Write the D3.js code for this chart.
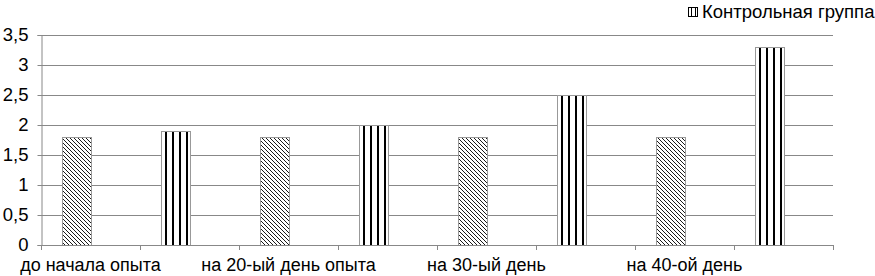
<!DOCTYPE html>
<html>
<head>
<meta charset="utf-8">
<script src="https://cdn.jsdelivr.net/npm/d3@7"></script>
<style>
  body { margin: 0; background: #fff; }
  svg { display: block; font-family: 'Liberation Sans', Arial, sans-serif; }
</style>
</head>
<body>
<svg id="chart" width="875" height="276"></svg>
<script>
// 8 slots on the axis, label shown on every second one
var categories = ['до начала опыта', '', 'на 20-ый день опыта', '', 'на 30-ый день', '', 'на 40-ой день', '']
var values = [1.8, 1.9, 1.8, 2.0, 1.8, 2.5, 1.8, 3.3]
var fills = ['hatch', 'stripe', 'hatch', 'stripe', 'hatch', 'stripe', 'hatch', 'stripe']
var yTicks = [0, 0.5, 1, 1.5, 2, 2.5, 3, 3.5]
var legendLabel = 'Контрольная группа'

var margin = { top: 35, right: 42, bottom: 31, left: 41 }
var width = 875, height = 276
var fontSize = 18.5

var svg = d3.select('#chart')

var x = d3.scaleBand()
  .domain(d3.range(categories.length))
  .range([margin.left, width - margin.right])

// two slots per category, bar sits in the first one
var slot = d3.scaleBand()
  .domain([0, 1])
  .range([0, x.bandwidth()])
  .paddingOuter(0.707)

var y = d3.scaleLinear()
  .domain([0, 3.5])
  .range([height - margin.bottom, margin.top])

var barX = (i) => Math.round(x(i) + slot(0)) + 0.5

var defs = svg.append('defs')
var hatch = defs.append('pattern')
  .attr('id', 'hatch')
  .attr('patternUnits', 'userSpaceOnUse')
  .attr('width', 4).attr('height', 4)
hatch.append('rect').attr('width', 4).attr('height', 4).attr('fill', '#fff')
hatch.append('path')
  .attr('d', 'M-1,-1 L5,5 M-1,3 L1,5 M3,-1 L5,1')
  .attr('stroke', '#000').attr('stroke-width', 0.9)

// one stripe pattern per bar, so the lines start at the same offset in each
values.forEach(function (v, i) {
  if (fills[i] !== 'stripe') return
  var p = defs.append('pattern')
    .attr('id', 'stripe' + i)
    .attr('patternUnits', 'userSpaceOnUse')
    .attr('x', barX(i) - 0.5)
    .attr('width', 7).attr('height', 10)
  p.append('rect').attr('width', 7).attr('height', 10).attr('fill', '#fff')
  p.append('rect').attr('x', 4).attr('width', 2).attr('height', 10).attr('fill', '#000')
})

var legendStripe = defs.append('pattern')
  .attr('id', 'legendStripe')
  .attr('patternUnits', 'userSpaceOnUse')
  .attr('x', 688)
  .attr('width', 4).attr('height', 10)
legendStripe.append('rect').attr('width', 4).attr('height', 10).attr('fill', '#fff')
legendStripe.append('rect').attr('x', 3).attr('width', 1).attr('height', 10).attr('fill', '#000')

var fmt = function (d) { return String(d).replace('.', ',') }

// gridlines
svg.append('g')
  .selectAll('line')
  .data(yTicks.slice(1))
  .join('line')
  .attr('x1', margin.left).attr('x2', width - margin.right)
  .attr('y1', (d) => Math.round(y(d)) + 0.5).attr('y2', (d) => Math.round(y(d)) + 0.5)
  .attr('stroke', '#888').attr('stroke-width', 1)

// y axis
var yAxis = svg.append('g')
  .attr('transform', 'translate(' + (margin.left + 0.5) + ',0)')
  .call(d3.axisLeft(y).tickValues(yTicks).tickFormat(fmt).tickSize(4).tickPadding(9))
yAxis.selectAll('path, line').attr('stroke', '#888')
yAxis.selectAll('text').attr('font-size', fontSize).attr('fill', '#000')
  .attr('font-family', "'Liberation Sans', Arial, sans-serif")

// bars
svg.append('g')
  .selectAll('rect')
  .data(values)
  .join('rect')
  .attr('x', (d, i) => barX(i))
  .attr('y', (d) => Math.round(y(d)) + 0.5)
  .attr('width', Math.round(slot.bandwidth()))
  .attr('height', (d) => Math.round(y(0)) - Math.round(y(d)))
  .attr('fill', (d, i) => fills[i] === 'stripe' ? 'url(#stripe' + i + ')' : 'url(#hatch)')
  .attr('stroke', '#999').attr('stroke-width', 1)

// x axis
var xEdges = d3.range(categories.length + 1).map((i) => margin.left + i * x.step())
var xAxis = svg.append('g')
xAxis.append('line')
  .attr('x1', margin.left).attr('x2', width - margin.right)
  .attr('y1', Math.round(y(0)) + 0.5).attr('y2', Math.round(y(0)) + 0.5)
  .attr('stroke', '#888')
xAxis.selectAll('.tick')
  .data(xEdges)
  .join('line')
  .attr('x1', (d) => Math.round(d) + 0.5).attr('x2', (d) => Math.round(d) + 0.5)
  .attr('y1', Math.round(y(0))).attr('y2', Math.round(y(0)) + 5)
  .attr('stroke', '#888')
xAxis.selectAll('text')
  .data(categories)
  .join('text')
  .attr('x', (d, i) => x(i) + x.bandwidth() / 2)
  .attr('y', 271)
  .attr('text-anchor', 'middle')
  .attr('font-size', 18)
  .attr('fill', '#000')
  .text((d) => d)

// legend
var legend = svg.append('g').attr('transform', 'translate(688,7)')
legend.append('rect')
  .attr('x', 0.5).attr('y', 0.5).attr('width', 9).attr('height', 9)
  .attr('fill', 'url(#legendStripe)').attr('stroke', '#000')
legend.append('text')
  .attr('x', 14).attr('y', 11)
  .attr('font-size', fontSize)
  .attr('fill', '#000')
  .text(legendLabel)
</script>
</body>
</html>
